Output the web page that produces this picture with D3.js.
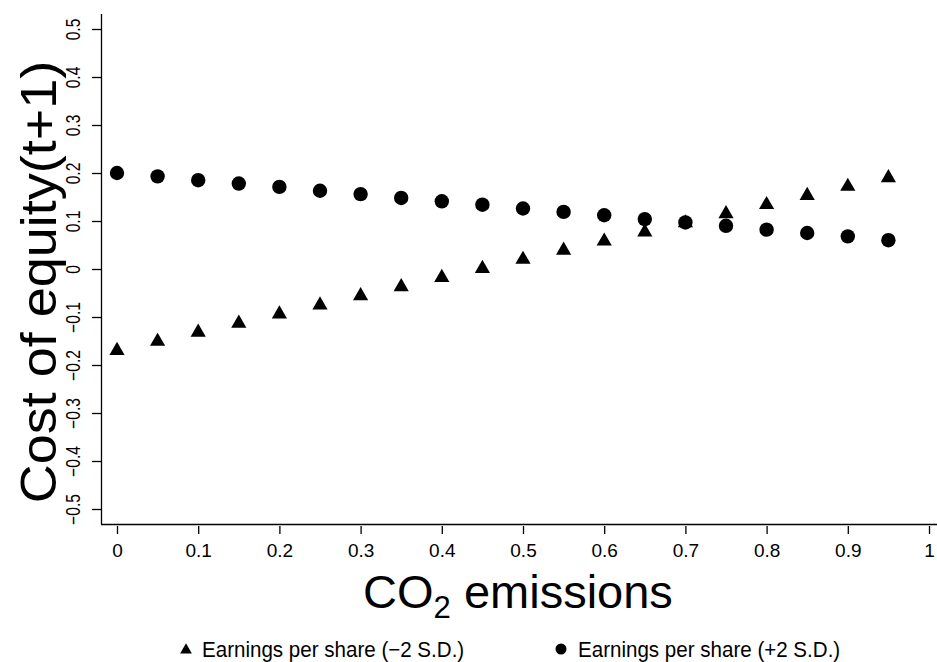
<!DOCTYPE html>
<html><head><meta charset="utf-8">
<script src="https://cdn.jsdelivr.net/npm/d3@7"></script>
<style>body{margin:0;background:#fff}svg{display:block;font-family:"Liberation Sans",Arial,sans-serif}</style>
</head><body><svg id="c" width="937" height="662"></svg>
<script>
const co2 = [0,0.05,0.1,0.15,0.2,0.25,0.3,0.35,0.4,0.45,0.5,0.55,0.6,0.65,0.7,0.75,0.8,0.85,0.9,0.95];
const epsMinus2SD = [-0.170,-0.151,-0.132,-0.113,-0.094,-0.075,-0.056,-0.037,-0.018,0.001,0.020,0.039,0.058,0.077,0.096,0.115,0.134,0.153,0.172,0.190];
const epsPlus2SD = [0.200,0.193,0.185,0.178,0.171,0.163,0.156,0.148,0.141,0.134,0.126,0.119,0.112,0.104,0.097,0.090,0.082,0.075,0.068,0.060];
const xTicks = [0,0.1,0.2,0.3,0.4,0.5,0.6,0.7,0.8,0.9,1];
const yTicks = [-0.5,-0.4,-0.3,-0.2,-0.1,0,0.1,0.2,0.3,0.4,0.5];
const legendLabels = ["Earnings per share (\u22122 S.D.)","Earnings per share (+2 S.D.)"];

const svg = d3.select("#c");
const x = d3.scaleLinear().domain([0,1]).range([117,929]);
const y = d3.scaleLinear().domain([-0.5,0.5]).range([509,29]);
const fmt = d => d===0?"0":(d<0?"\u2212":"")+String(Math.abs(d));

svg.append("line").attr("x1",101.5).attr("x2",101.5).attr("y1",14).attr("y2",524).attr("stroke","#000").attr("stroke-width",1.3);
svg.append("line").attr("x1",101).attr("x2",937).attr("y1",524.5).attr("y2",524.5).attr("stroke","#000").attr("stroke-width",1.3);

const xa = d3.axisBottom(x).tickValues(xTicks).tickSize(8).tickPadding(10).tickFormat(fmt);
const gx = svg.append("g").attr("transform","translate(0,526)").call(xa);
gx.select(".domain").remove();
gx.selectAll("line").attr("stroke","#000").attr("stroke-width",1.3);
gx.selectAll("text").attr("font-size",19).attr("fill","#000").attr("font-family","Liberation Sans, Arial, sans-serif");

const ya = d3.axisLeft(y).tickValues(yTicks).tickSize(9).tickPadding(0).tickFormat(fmt);
const gy = svg.append("g").attr("transform","translate(101,0)").call(ya);
gy.select(".domain").remove();
gy.selectAll("line").attr("stroke","#000").attr("stroke-width",1.3);
gy.selectAll("text").attr("font-size",19.5).attr("fill","#000").attr("font-family","Liberation Sans, Arial, sans-serif")
  .attr("x",null).attr("dy",null).attr("text-anchor","middle")
  .attr("transform","translate(-26,0) rotate(-90) scale(0.8,1)").attr("dominant-baseline","middle")
  .attr("y",0);

const tri = d3.symbol().type(d3.symbolTriangle).size(100);
svg.append("g").selectAll("path").data(co2).join("path")
  .attr("d",tri).attr("transform",(d,i)=>`translate(${x(d)},${y(epsMinus2SD[i])})`).attr("fill","#000");
svg.append("g").selectAll("circle").data(co2).join("circle")
  .attr("cx",d=>x(d)).attr("cy",(d,i)=>y(epsPlus2SD[i])).attr("r",7.2).attr("fill","#000");

svg.append("text").attr("transform","translate(56,282) rotate(-90) scale(1.08,1)").attr("text-anchor","middle")
  .attr("font-size",50).attr("fill","#000").text("Cost of equity(t+1)");
const xt = svg.append("text").attr("x",518).attr("y",608).attr("text-anchor","middle").attr("font-size",47).attr("fill","#000");
xt.append("tspan").text("CO");
xt.append("tspan").attr("font-size",31).attr("dy",10).text("2");
xt.append("tspan").attr("dy",-10).text(" emissions");

const lg = svg.append("g");
lg.append("path").attr("d",d3.symbol().type(d3.symbolTriangle).size(60)).attr("transform","translate(186,650)").attr("fill","#000");
lg.append("text").attr("transform","translate(202,657) scale(0.935,1)").attr("font-size",22).attr("fill","#000").text(legendLabels[0]);
lg.append("circle").attr("cx",561).attr("cy",649).attr("r",5.5).attr("fill","#000");
lg.append("text").attr("transform","translate(578,657) scale(0.935,1)").attr("font-size",22).attr("fill","#000").text(legendLabels[1]);
</script></body></html>
